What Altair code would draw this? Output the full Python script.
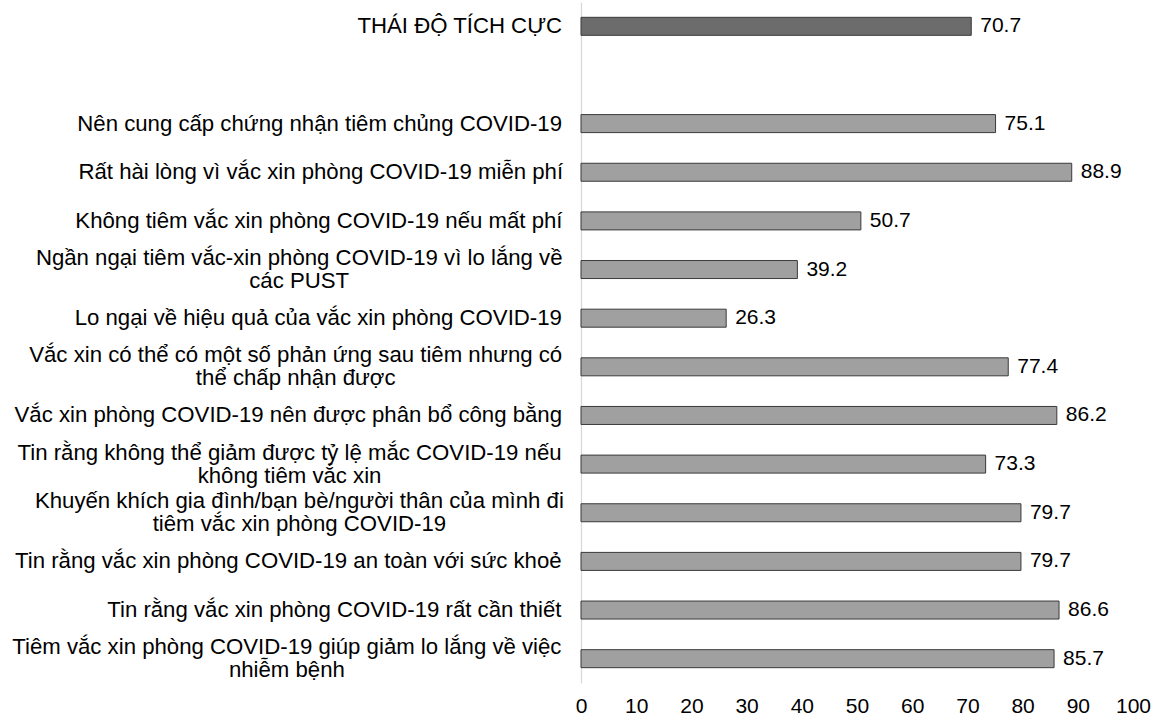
import unicodedata
import altair as alt
import pandas as pd

# ---- data ----
labels = [
    "THÁI ĐỘ TÍCH CỰC",
    "Nên cung cấp chứng nhận tiêm chủng COVID-19",
    "Rất hài lòng vì vắc xin phòng COVID-19 miễn phí",
    "Không tiêm vắc xin phòng COVID-19 nếu mất phí",
    "Ngần ngại tiêm vắc-xin phòng COVID-19 vì lo lắng về\ncác PUST",
    "Lo ngại về hiệu quả của vắc xin phòng COVID-19",
    "Vắc xin có thể có một số phản ứng sau tiêm nhưng có\nthể chấp nhận được",
    "Vắc xin phòng COVID-19 nên được phân bổ công bằng",
    "Tin rằng không thể giảm được tỷ lệ mắc COVID-19 nếu\nkhông tiêm vắc xin",
    "Khuyến khích gia đình/bạn bè/người thân của mình đi\ntiêm vắc xin phòng COVID-19",
    "Tin rằng vắc xin phòng COVID-19 an toàn với sức khoẻ",
    "Tin rằng vắc xin phòng COVID-19 rất cần thiết",
    "Tiêm vắc xin phòng COVID-19 giúp giảm lo lắng về việc\nnhiễm bệnh",
]
values = [70.7, 75.1, 88.9, 50.7, 39.2, 26.3, 77.4, 86.2, 73.3, 79.7, 79.7, 86.6, 85.7]
groups = ["total"] + ["item"] * 12
x_ticks = [0, 10, 20, 30, 40, 50, 60, 70, 80, 90, 100]

GAP = "\u2002"  # empty slot between the summary bar and the items
domain = [labels[0], GAP] + labels[1:]

# ---- layout / style ----
FONT = "Liberation Sans"
LABEL_FS = 22.2
VALUE_FS = 21
TICK_FS = 21
LINE_H = 23
PLOT_W = 552
PLOT_H = 681
LABEL_RIGHT = -19  # right edge of category label block, px left of the axis

# Arial / Liberation Sans advance widths (1/1000 em)
W = {" ": 278, "-": 333, "/": 278, ".": 278, ",": 278}
W.update({c: 556 for c in "0123456789"})
W.update(dict(zip("abcdefghijklmnopqrstuvwxyz",
                  [556, 556, 500, 556, 556, 278, 556, 556, 222, 222, 500, 222, 833,
                   556, 556, 556, 556, 333, 500, 278, 556, 500, 722, 500, 500, 500])))
W.update(dict(zip("ABCDEFGHIJKLMNOPQRSTUVWXYZ",
                  [667, 667, 722, 722, 667, 611, 778, 722, 278, 500, 667, 556, 833,
                   722, 778, 667, 778, 722, 667, 611, 722, 667, 944, 667, 667, 611])))
W.update({"đ": 556, "Đ": 722})


def text_width(s, fs):
    total = 0
    for ch in s:
        if ch in W:
            total += W[ch]
            continue
        dec = unicodedata.normalize("NFD", ch)
        total += W.get(dec[0], 556)
        if "\u031b" in dec:  # horn (ơ, ư)
            total += 100
    return total * fs / 1000.0


cx, nlines = [], []
for lab in labels:
    parts = lab.split("\n")
    block = max(text_width(line, LABEL_FS) for line in parts)
    cx.append(LABEL_RIGHT - block / 2.0)
    nlines.append(len(parts))

df = pd.DataFrame({"label": labels, "value": values, "group": groups,
                   "cx": cx, "nlines": nlines})

y_enc = alt.Y(
    "label:N",
    scale=alt.Scale(domain=domain, paddingInner=0.63, paddingOuter=0.315),
    axis=alt.Axis(labels=False, ticks=False, title=None, domain=True,
                  domainColor="#d9d9d9", domainWidth=1.3, grid=False),
)

bars = alt.Chart(df).mark_bar(stroke="#3a3a3a", strokeWidth=1).encode(
    x=alt.X("value:Q",
            scale=alt.Scale(domain=[0, 100], nice=False, zero=True),
            axis=alt.Axis(values=x_ticks, title=None, domain=False, ticks=False,
                          grid=False, labelFontSize=TICK_FS, labelFont=FONT,
                          labelColor="#000000", labelPadding=12, labelFlush=False,
                          labelOverlap=False)),
    y=y_enc,
    fill=alt.Fill("group:N",
                  scale=alt.Scale(domain=["total", "item"], range=["#6c6c6c", "#a0a0a0"]),
                  legend=None),
)

values_txt = alt.Chart(df).mark_text(
    align="left", baseline="middle", dx=9, font=FONT, fontSize=VALUE_FS, color="#000000"
).encode(
    x="value:Q",
    y=alt.Y("label:N"),
    text=alt.Text("value:Q", format=".1f"),
)


def cat_layer(n):
    return alt.Chart(df).transform_filter(alt.datum.nlines == n).mark_text(
        align="center", baseline="middle", font=FONT, fontSize=LABEL_FS,
        lineBreak="\n", lineHeight=LINE_H, color="#000000",
        dy=-(n - 1) * LINE_H / 2.0,
    ).encode(
        x=alt.X("cx:Q", scale=None),
        y=alt.Y("label:N"),
        text="label:N",
    )


chart = (
    alt.layer(bars, values_txt, cat_layer(1), cat_layer(2))
    .properties(
        width=PLOT_W,
        height=PLOT_H,
        autosize=alt.AutoSizeParams(type="none"),
        padding={"left": 581, "top": 2, "right": 30, "bottom": 34},
        background="white",
    )
    .configure_view(stroke=None)
)

chart.save("out.html", embed_options={"renderer": "svg", "actions": False})
